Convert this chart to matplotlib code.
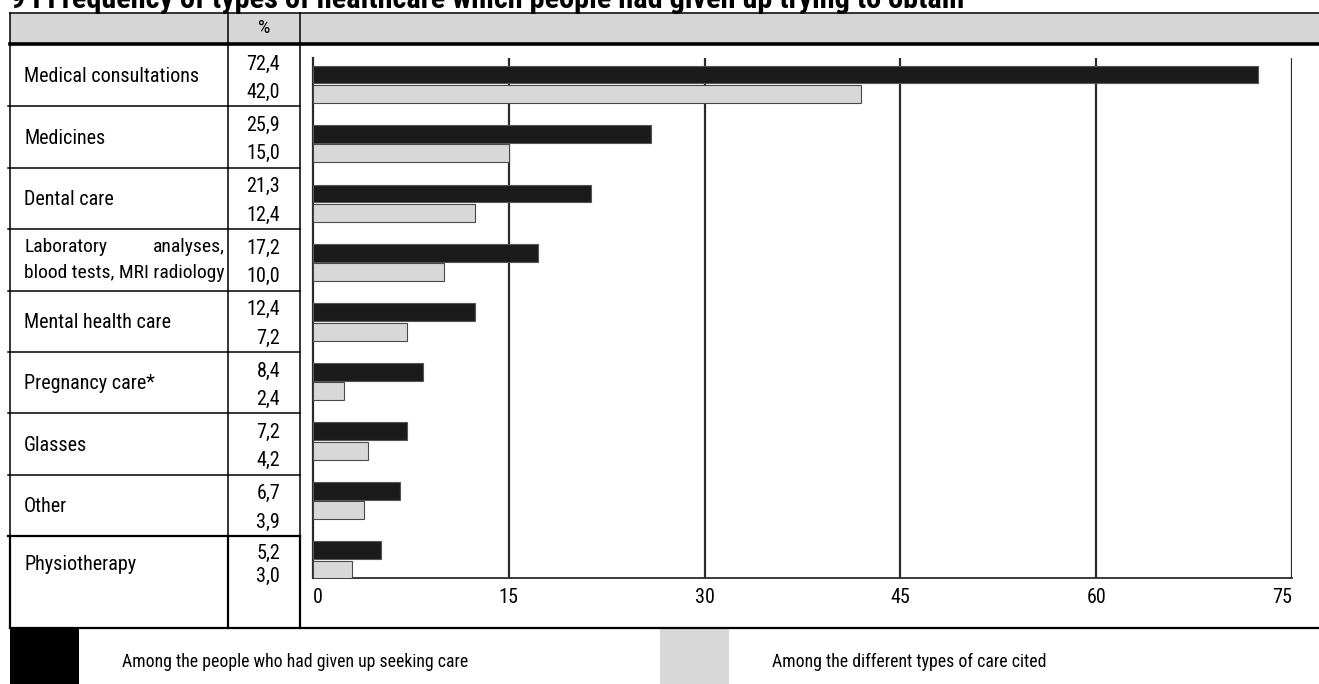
import matplotlib
matplotlib.use("Agg")
import matplotlib.pyplot as plt
from matplotlib import font_manager
from matplotlib.patches import Rectangle
import numpy as np

# Data
categories = ["Medical consultations", "Medicines", "Dental care",
              "Laboratory analyses, blood tests, MRI radiology",
              "Mental health care", "Pregnancy care*", "Glasses", "Other",
              "Physiotherapy"]
among_people = [72.4, 25.9, 21.3, 17.2, 12.4, 8.4, 7.2, 6.7, 5.2]
among_types = [42.0, 15.0, 12.4, 10.0, 7.2, 2.4, 4.2, 3.9, 3.0]
x_ticks = [0, 15, 30, 45, 60, 75]
legend_labels = ["Among the people who had given up seeking care",
                 "Among the different types of care cited"]
title = "9 I Frequency of types of healthcare which people had given up trying to obtain"

BLACK = "#1b1b1b"
GREY = "#d8d8d8"
LINE = "#2b2b2b"


def pick_font(names):
    have = {f.name for f in font_manager.fontManager.ttflist}
    for n in names:
        if n in have:
            return n
    return "DejaVu Sans"


FONT = pick_font(["Liberation Sans Narrow", "Roboto Condensed", "Liberation Sans"])
plt.rcParams["font.family"] = [FONT, "DejaVu Sans"]

W, H = 1319, 684
fig = plt.figure(figsize=(W / 100, H / 100), dpi=100)

# background axes in pixel units for the table frame
bg = fig.add_axes([0, 0, 1, 1])
bg.set_xlim(0, W)
bg.set_ylim(H, 0)
bg.axis("off")

LEFT, COL1, COL2 = 10, 228, 299.5
TOP, HEAD_BOT = 12.5, 44
ROW0, ROW_H = 45, 61.4
TABLE_BOT = 627.5
n = len(categories)


def fit_width(txt, target):
    r = fig.canvas.get_renderer()
    w = txt.get_window_extent(r).width
    txt.set_fontsize(txt.get_fontsize() * target / w)


# title (clipped at top edge like the source)
t = bg.text(LEFT, 7.5, title, fontsize=20, fontweight="bold", va="baseline", ha="left")
fit_width(t, 950)

# header band
bg.add_patch(Rectangle((LEFT, TOP), W - LEFT, HEAD_BOT - TOP, color="#d6d6d6", lw=0))
bg.plot([LEFT, W], [TOP, TOP], color="black", lw=1.1)
bg.plot([LEFT, W], [HEAD_BOT, HEAD_BOT], color="black", lw=2.6)
bg.text((COL1 + COL2) / 2, 28, "%", ha="center", va="center", fontsize=14)

# vertical frame lines
for x in (LEFT, COL1, COL2):
    bg.plot([x, x], [TOP, TABLE_BOT], color="black", lw=1.1)
bg.plot([LEFT, W], [TABLE_BOT, TABLE_BOT], color="black", lw=1.6)

# row separators in the text columns
for k in range(1, n):
    y = ROW0 + k * ROW_H
    bg.plot([LEFT - 2, COL2], [y, y], color="black", lw=1.6 if k == n - 1 else 1.1)
last_top = ROW0 + (n - 1) * ROW_H
for x in (LEFT, COL1, COL2):
    bg.plot([x, x], [last_top, TABLE_BOT], color="black", lw=1.6)

FS = 14.5
renderer = fig.canvas.get_renderer()
for i, cat in enumerate(categories):
    top = ROW0 + i * ROW_H
    if i == n - 1:
        y1, y2, yl = top + 23, top + 46, top + 28
    else:
        y1, y2, yl = top + 24.5, top + 53, top + ROW_H / 2 + 1
    bg.text(280, y1, f"{among_people[i]:.1f}".replace(".", ","), ha="right", va="baseline", fontsize=FS)
    bg.text(280, y2, f"{among_types[i]:.1f}".replace(".", ","), ha="right", va="baseline", fontsize=FS)
    if cat.startswith("Laboratory"):
        l2 = bg.text(24, top + 49, "blood tests, MRI radiology", ha="left", va="baseline", fontsize=14)
        ext = l2.get_window_extent(renderer)
        bg.text(24, top + 23, "Laboratory", ha="left", va="baseline", fontsize=14)
        bg.text(ext.x1, top + 23, "analyses,", ha="right", va="baseline", fontsize=14)
    else:
        bg.text(24, yl, cat, ha="left", va="center", fontsize=FS)

# legend strip
bg.add_patch(Rectangle((LEFT, TABLE_BOT), 69, H - TABLE_BOT, color="black", lw=0))
bg.text(122, 662, legend_labels[0], ha="left", va="center", fontsize=12.8)
bg.add_patch(Rectangle((660, TABLE_BOT), 69, H - TABLE_BOT, color=GREY, lw=0))
bg.text(772, 662, legend_labels[1], ha="left", va="center", fontsize=12.8)

# chart area
ax = fig.add_axes([313 / W, 1 - 578 / H, (1292 - 313) / W, (578 - 58) / H])
ax.set_facecolor("none")
idx = np.arange(n)
ax.barh(idx - 0.163, among_people, height=0.3, color=BLACK, edgecolor="#555555", lw=0.8, zorder=3)
ax.barh(idx + 0.163, among_types, height=0.3, color=GREY, edgecolor="#4a4a4a", lw=0.8, zorder=3)
for v in x_ticks[1:]:
    ax.axvline(v, color=LINE, lw=1.6, zorder=1)
ax.set_xlim(0, 75)
ax.set_ylim(8.303, -0.4406)
ax.set_yticks([])
ax.set_xticks(x_ticks)
ax.set_xticklabels([str(v) for v in x_ticks], fontsize=14.5)
ax.tick_params(axis="x", length=0, pad=7)
labels = ax.get_xticklabels()
labels[0].set_ha("left")
labels[-1].set_ha("right")
for s in ("top", "right"):
    ax.spines[s].set_visible(False)
ax.spines["left"].set_linewidth(1.6)
ax.spines["left"].set_color(LINE)
ax.spines["bottom"].set_linewidth(1.3)
ax.spines["bottom"].set_color(LINE)

fig.savefig("out.png", dpi=100)
